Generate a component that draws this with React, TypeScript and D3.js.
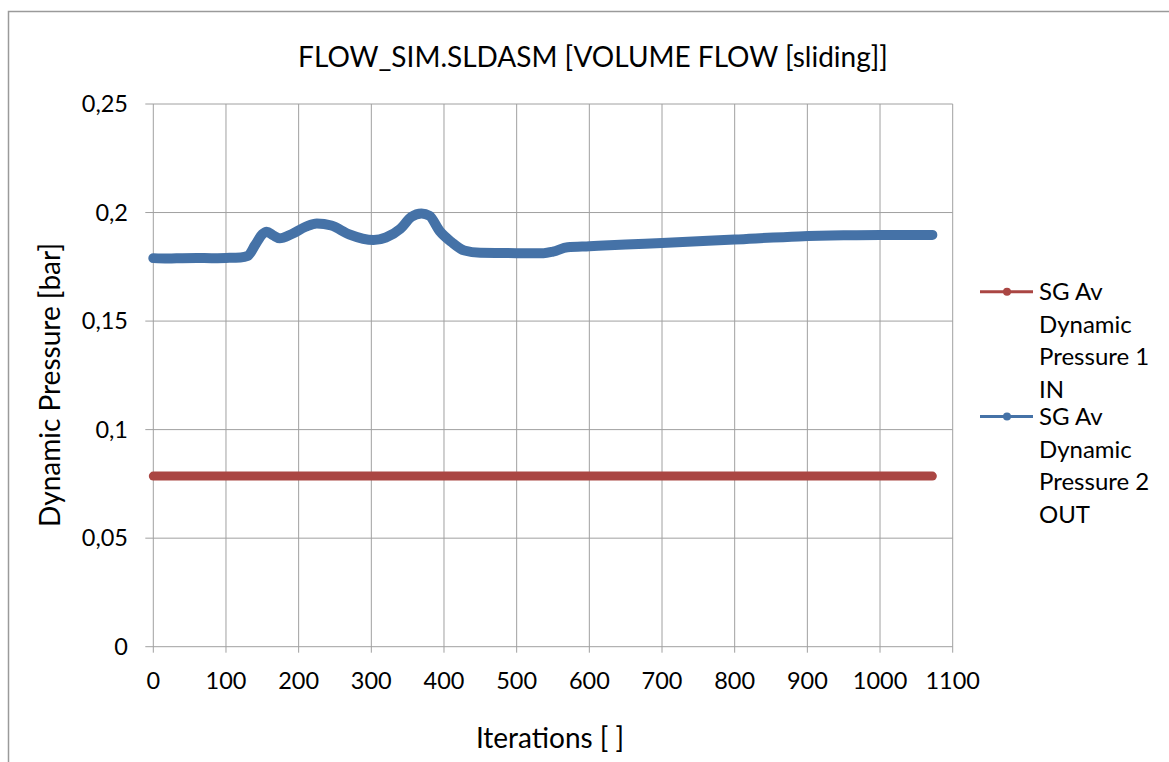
import React from "react";
import * as d3 from "d3";

const title = "FLOW_SIM.SLDASM [VOLUME FLOW [sliding]]";
const xLabel = "Iterations [ ]";
const yLabel = "Dynamic Pressure [bar]";
const xTicks = [0, 100, 200, 300, 400, 500, 600, 700, 800, 900, 1000, 1100];
const yTicks = [0, 0.05, 0.1, 0.15, 0.2, 0.25];

const inIter = [0, 1072];
const inValues = [0.0786, 0.0786];

const outIter = [0, 20, 40, 60, 80, 100, 120, 130, 140, 150, 156, 165, 174, 190, 210, 225, 245, 270, 303, 320, 340, 355, 369, 380, 394, 410, 428, 450, 500, 537, 550, 570, 600, 650, 700, 800, 888, 950, 1000, 1072];
const outValues = [0.179, 0.1788, 0.179, 0.1791, 0.179, 0.1791, 0.1793, 0.18, 0.185, 0.19, 0.1912, 0.1895, 0.1881, 0.19, 0.1935, 0.195, 0.194, 0.1899, 0.1873, 0.1885, 0.1925, 0.198, 0.1996, 0.1985, 0.1915, 0.1865, 0.1825, 0.1815, 0.1813, 0.1813, 0.182, 0.184, 0.1845, 0.1853, 0.186, 0.1876, 0.189, 0.1895, 0.1897, 0.1897];

const seriesNames = [
  ["SG Av", "Dynamic", "Pressure 1", "IN"],
  ["SG Av", "Dynamic", "Pressure 2", "OUT"],
];
const colors = ["#AA4643", "#4572A7"];

export default function App() {
  const W = 1169, H = 762;
  const left = 153.3, right = 952.7, top = 104, bottom = 646.7;
  const x = d3.scaleLinear().domain([0, 1100]).range([left, right]);
  const y = d3.scaleLinear().domain([0, 0.25]).range([bottom, top]);
  const font = "Lato, Carlito, Calibri, sans-serif";

  const lineGen = d3
    .line<[number, number]>()
    .x((d) => x(d[0]))
    .y((d) => y(d[1]))
    .curve(d3.curveMonotoneX);

  const inPath = lineGen(inIter.map((t, i) => [t, inValues[i]]));
  const outPath = lineGen(outIter.map((t, i) => [t, outValues[i]]));

  const legendY = [291.7, 416.5];
  const lineGap = 32.5;

  return (
    <svg
      width={W}
      height={H}
      style={{ position: "absolute", left: 0, top: 0, background: "#fff" }}
      fontFamily={font}
    >
      <rect x={8.5} y={11.5} width={1200} height={800} fill="#fff" stroke="#9a9a9a" strokeWidth={1.5} />
      <text x={593} y={67} textAnchor="middle" fontSize={28} fill="#000">
        {title}
      </text>
      {/* grid */}
      {xTicks.map((t) => (
        <line key={"gx" + t} x1={x(t)} x2={x(t)} y1={top} y2={bottom + 6} stroke="#a0a0a0" strokeWidth={1} />
      ))}
      {yTicks.map((t) => (
        <line key={"gy" + t} x1={left - 8} x2={right} y1={y(t)} y2={y(t)} stroke="#a0a0a0" strokeWidth={1} />
      ))}
      {/* tick labels */}
      {xTicks.map((t) => (
        <text key={"tx" + t} x={x(t)} y={689} textAnchor="middle" fontSize={23.5} fill="#000">
          {String(t)}
        </text>
      ))}
      {yTicks.map((t) => (
        <text key={"ty" + t} x={128} y={y(t) + 8} textAnchor="end" fontSize={23.5} fill="#000">
          {String(t).replace(".", ",")}
        </text>
      ))}
      <text x={550} y={748} textAnchor="middle" fontSize={28} fill="#000">
        {xLabel}
      </text>
      <text
        transform={`translate(60,385) rotate(-90)`}
        textAnchor="middle"
        fontSize={28}
        fill="#000"
      >
        {yLabel}
      </text>
      {/* series */}
      <path d={inPath || ""} fill="none" stroke={colors[0]} strokeWidth={9} strokeLinecap="round" strokeLinejoin="round" />
      <path d={outPath || ""} fill="none" stroke={colors[1]} strokeWidth={10} strokeLinecap="round" strokeLinejoin="round" />
      {/* legend */}
      {seriesNames.map((lines, i) => (
        <g key={"lg" + i}>
          <line x1={980} x2={1033} y1={legendY[i]} y2={legendY[i]} stroke={colors[i]} strokeWidth={3} />
          <circle cx={1007} cy={legendY[i]} r={4} fill={colors[i]} />
          {lines.map((s, j) => (
            <text key={j} x={1039} y={legendY[i] + j * lineGap + 8.5} fontSize={24} fill="#000">
              {s}
            </text>
          ))}
        </g>
      ))}
    </svg>
  );
}
